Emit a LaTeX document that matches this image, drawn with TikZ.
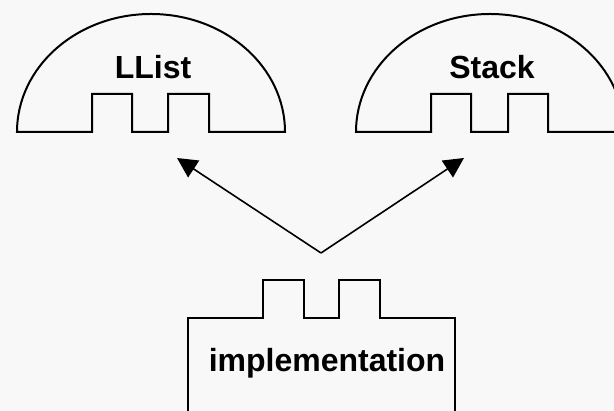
\documentclass[tikz,border=0pt]{standalone}
\usepackage{fontspec}
\setmainfont{Liberation Sans}
\usetikzlibrary{arrows.meta}
\tikzset{
  part/.style={draw=black, line width=2pt, line join=miter},
  label/.style={font=\fontsize{32}{38}\selectfont\bfseries, text=black, inner sep=0pt},
  uses/.style={draw=black, line width=1.6pt, -{Triangle[length=20pt, width=20pt]}}
}
\begin{document}
\begin{tikzpicture}[x=1pt, y=1pt]
\definecolor{bg}{HTML}{F8F8F8}
\useasboundingbox (0,0) rectangle (614,411);
\fill[bg] (0,0) rectangle (614,411);
\clip (0,0) rectangle (614,411);
\draw[part] (17,279) arc[start angle=180, end angle=0, x radius=134pt, y radius=118pt] -- (209,279) -- (209,317) -- (168,317) -- (168,279) -- (132,279) -- (132,317) -- (92,317) -- (92,279) -- cycle;
\node[label] (llist) at (153,344) {LList};
\draw[part] (356,279) arc[start angle=180, end angle=0, x radius=134pt, y radius=118pt] -- (548,279) -- (548,317) -- (508,317) -- (508,279) -- (471,279) -- (471,317) -- (431,317) -- (431,279) -- cycle;
\node[label] (stack) at (492,344) {Stack};
\draw[part] (188,-5) -- (188,93) -- (263,93) -- (263,131) -- (304,131) -- (304,93) -- (339,93) -- (339,131) -- (380,131) -- (380,93) -- (455,93) -- (455,-5);
\node[label] (impl) at (327,48) {implementation};
\coordinate (apex) at (321,158);
\coordinate (llisttip) at (177,253);
\coordinate (stacktip) at (464,253);
\draw[uses] (apex) -- (llisttip);
\draw[uses] (apex) -- (stacktip);
\end{tikzpicture}
\end{document}
